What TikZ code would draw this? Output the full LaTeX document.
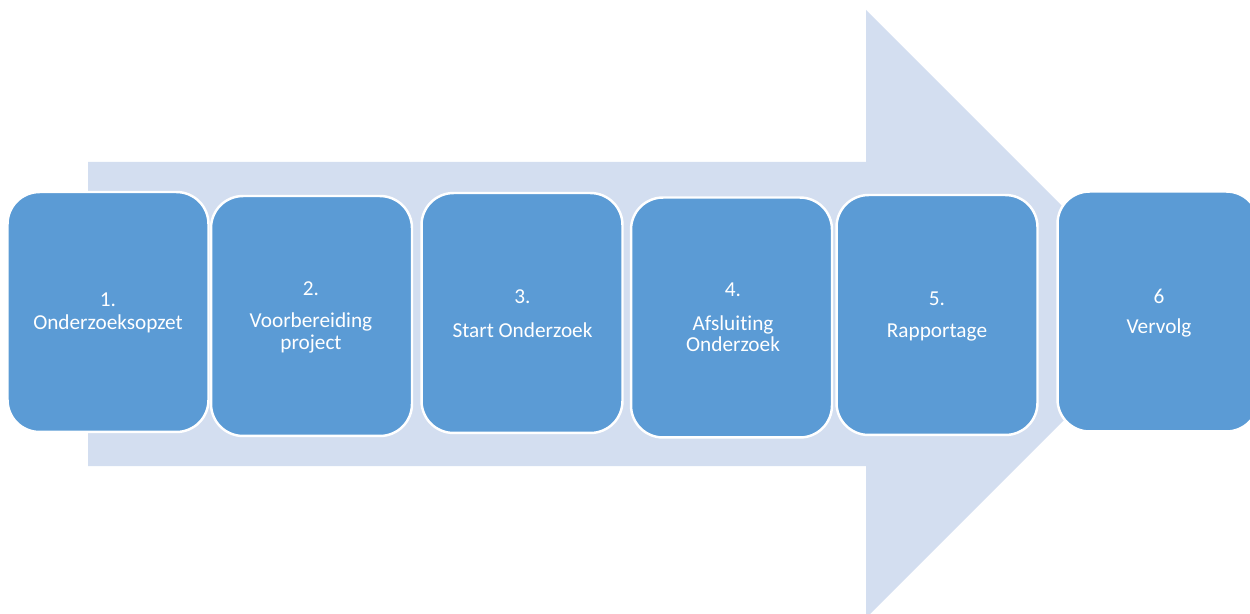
\documentclass[tikz,border=0pt]{standalone}
\usepackage{fontspec}
\setmainfont{Carlito}[Ligatures=NoCommon]
\definecolor{boxblue}{HTML}{5B9BD5}
\definecolor{arrowblue}{HTML}{D3DEF0}
\begin{document}
\begin{tikzpicture}[x=0.02cm,y=-0.02cm,
  stepbox/.style={draw=white, line width=1.4pt, fill=boxblue, rounded corners=0.64cm,
    minimum width=4.02cm, minimum height=4.8cm, inner sep=0pt, anchor=center},
  lbl/.style={text=white, font=\fontsize{12.1}{13.6}\selectfont, align=center, anchor=base, inner sep=0pt}]
\useasboundingbox (0,0) rectangle (1250,614);
\clip (0,0) rectangle (1250,614);
% big arrow
\fill[arrowblue] (88,162) -- (866,162) -- (866,10) -- (1170,314) -- (866,618) -- (866,466) -- (88,466) -- cycle;
% boxes
\node[stepbox] (b1) at (108,312) {};
\node[stepbox] (b2) at (311.5,316) {};
\node[stepbox] (b3) at (522,313) {};
\node[stepbox] (b4) at (731.5,317.5) {};
\node[stepbox] (b5) at (937,315) {};
\node[stepbox] (b6) at (1158,311.5) {};
% labels (anchored at the baseline of the last line)
\node[lbl] (t1) at (108,330) {1.\\Onderzoeksopzet};
\node[lbl] (t2) at (311,350) {2.\\[4.5pt]Voorbereiding\\[-0.6pt]project};
\node[lbl] (t3) at (522.5,338) {3.\\[6.2pt]Start Onderzoek};
\node[lbl] (t4) at (733,352) {4.\\[5.7pt]Afsluiting\\[-1.1pt]Onderzoek};
\node[lbl] (t5) at (937,338) {5.\\[5.1pt]Rapportage};
\node[lbl] (t6) at (1159,334) {6\\[4pt]Vervolg};
\end{tikzpicture}
\end{document}
